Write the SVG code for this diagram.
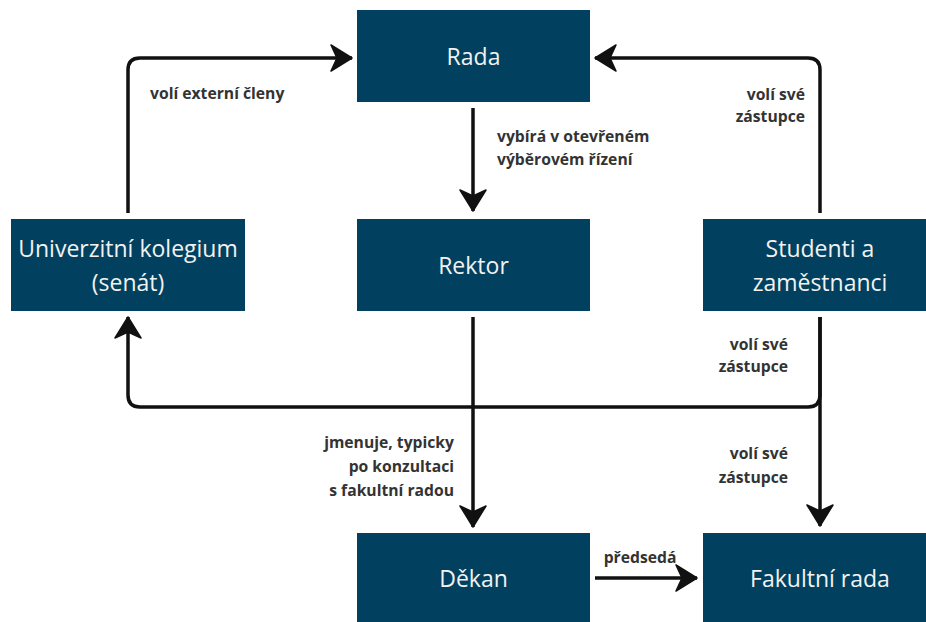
<svg xmlns="http://www.w3.org/2000/svg" width="926" height="622" viewBox="0 0 926 622">
  <style>
    .box { fill: #01415f; }
    .node-text { font-family: "Open Sans", "Noto Sans", sans-serif; font-size: 23px; fill: #f2f2f2; text-anchor: middle; }
    .edge { fill: none; stroke: #111; stroke-width: 3.5; stroke-linejoin: round; }
    .label { font-family: "Open Sans", "Noto Sans", sans-serif; font-size: 15.7px; font-weight: bold; fill: #333; }
  </style>
  <defs>
    <marker id="arrow" viewBox="-23 -15 25 30" refX="0" refY="0" markerWidth="25" markerHeight="30" markerUnits="userSpaceOnUse" orient="auto">
      <path d="M-21,-13 L0,0 L-21,13 L-15,0 Z" fill="#111" stroke="#111" stroke-width="1.5" stroke-linejoin="round"/>
    </marker>
  </defs>
  <rect width="926" height="622" fill="#fff"/>

  <g id="connectors">
    <path class="edge" d="M128,213 V70 Q128,58 140,58 H352" marker-end="url(#arrow)"/>
    <path class="edge" d="M473,108 V211" marker-end="url(#arrow)"/>
    <path class="edge" d="M820,213 V70 Q820,58 808,58 H595" marker-end="url(#arrow)"/>
    <path class="edge" d="M820,317 V526" marker-end="url(#arrow)"/>
    <path class="edge" d="M820,317 V395 Q820,407 808,407 H140 Q128,407 128,395 V317" marker-end="url(#arrow)"/>
    <path class="edge" d="M473,317 V527" marker-end="url(#arrow)"/>
    <path class="edge" d="M595,578 H697" marker-end="url(#arrow)"/>
  </g>

  <g id="labels">
    <text class="label" x="150" y="99">volí externí členy</text>
    <text class="label" x="497" y="142">vybírá v otevřeném</text>
    <text class="label" x="497" y="165">výběrovém řízení</text>
    <text class="label" x="805" y="100" text-anchor="end">volí své</text>
    <text class="label" x="805" y="122" text-anchor="end">zástupce</text>
    <text class="label" x="788" y="350" text-anchor="end">volí své</text>
    <text class="label" x="788" y="372" text-anchor="end">zástupce</text>
    <text class="label" x="788" y="459" text-anchor="end">volí své</text>
    <text class="label" x="788" y="483" text-anchor="end">zástupce</text>
    <text class="label" x="454" y="448" text-anchor="end">jmenuje, typicky</text>
    <text class="label" x="454" y="472" text-anchor="end">po konzultaci</text>
    <text class="label" x="454" y="496" text-anchor="end">s fakultní radou</text>
    <text class="label" x="640" y="563" text-anchor="middle">předsedá</text>
  </g>

  <g id="rada">
    <rect class="box" x="357" y="10" width="233" height="92"/>
    <text class="node-text" x="473.5" y="65">Rada</text>
  </g>
  <g id="kolegium">
    <rect class="box" x="11" y="219" width="234" height="92"/>
    <text class="node-text" x="128" y="257">Univerzitní kolegium</text>
    <text class="node-text" x="128" y="291">(senát)</text>
  </g>
  <g id="rektor">
    <rect class="box" x="357" y="219" width="233" height="92"/>
    <text class="node-text" x="473.5" y="274">Rektor</text>
  </g>
  <g id="studenti">
    <rect class="box" x="703" y="219" width="234" height="92"/>
    <text class="node-text" x="820" y="257">Studenti a</text>
    <text class="node-text" x="820" y="291">zaměstnanci</text>
  </g>
  <g id="dekan">
    <rect class="box" x="357" y="533" width="233" height="92"/>
    <text class="node-text" x="473.5" y="587">Děkan</text>
  </g>
  <g id="fakultni-rada">
    <rect class="box" x="703" y="533" width="234" height="92"/>
    <text class="node-text" x="820" y="587">Fakultní rada</text>
  </g>
</svg>
